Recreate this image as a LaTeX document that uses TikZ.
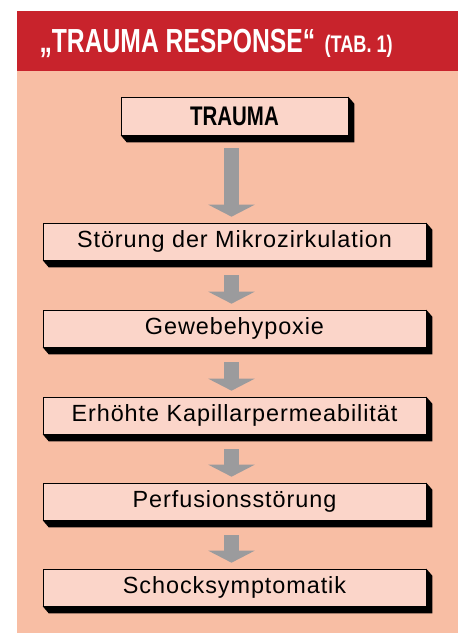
\documentclass[tikz,border=0pt]{standalone}
\usepackage{fontspec}
\setmainfont{Liberation Sans}[LetterSpace=4]
\newfontfamily\condfont[FakeStretch=0.76]{Liberation Sans}
\newfontfamily\titlefont[FakeStretch=0.74]{Liberation Sans}
\usetikzlibrary{arrows.meta}

\definecolor{headred}{HTML}{C8232C}
\definecolor{panelpeach}{HTML}{F8BEA4}
\definecolor{boxpink}{HTML}{FBD5C9}
\definecolor{arrowgray}{HTML}{9B9B9D}

\tikzset{
  flowbox/.style={draw=black,line width=0.6bp,fill=boxpink,inner sep=0pt,
    minimum width=383bp,minimum height=37bp,font=\fontsize{23.5}{26}\selectfont},
  flowarrow/.style={draw=arrowgray,line width=15bp,
    -{Triangle[width=46bp,length=12bp]},shorten >=6bp},
}
% black extruded edge at bottom right of a box
\newcommand{\flowshadow}[1]{%
  \fill (#1.north east) -- ++(6bp,-7bp) -- ([shift={(6bp,-7bp)}]#1.south east)
    -- ([shift={(6bp,-7bp)}]#1.south west) -- (#1.south west) -- (#1.south east) -- cycle;}

\begin{document}
\begin{tikzpicture}[>=latex,line join=miter]
  \pgfsetlinewidth{1bp}
  \useasboundingbox (0bp,0bp) rectangle (464bp,635bp);
%%
  % Panel
  \fill[panelpeach] (17bp,2bp) rectangle (458bp,564bp);
  \fill[headred] (17bp,564bp) rectangle (458bp,624bp);
  \node[anchor=base west,inner sep=0pt,text=white,font=\titlefont\bfseries\fontsize{33.5}{36}\selectfont]
    (title) at (39bp,582bp) {„TRAUMA RESPONSE“};
  \node[anchor=base west,inner sep=0pt,text=white,font=\condfont\bfseries\fontsize{24}{26}\selectfont]
    (tab) at (324bp,582bp) {(TAB. 1)};
  % Node: trauma
  \node[flowbox,minimum width=227bp,minimum height=38bp,font=\condfont\bfseries\fontsize{27}{30}\selectfont]
    (trauma) at (234.5bp,519bp) {TRAUMA};
  \flowshadow{trauma}
  % Node: mikro
  \node[flowbox] (mikro) at (234.5bp,393.5bp) {Störung der Mikrozirkulation};
  \flowshadow{mikro}
  % Node: hypoxie
  \node[flowbox] (hypoxie) at (234.5bp,306.5bp) {Gewebehypoxie};
  \flowshadow{hypoxie}
  % Node: kapillar
  \node[flowbox] (kapillar) at (234.5bp,219.5bp) {Erhöhte Kapillarpermeabilität};
  \flowshadow{kapillar}
  % Node: perfusion
  \node[flowbox] (perfusion) at (234.5bp,133.5bp) {Perfusionsstörung};
  \flowshadow{perfusion}
  % Node: schock
  \node[flowbox] (schock) at (234.5bp,47.5bp) {Schocksymptomatik};
  \flowshadow{schock}
  % Edge: trauma -- mikro
  \draw[flowarrow,shorten <=13bp] ([xshift=-3bp]trauma.south) -- ([xshift=-3bp]mikro.north);
  % Edge: mikro -- hypoxie
  \draw[flowarrow,shorten <=15bp] ([xshift=-3bp]mikro.south) -- ([xshift=-3bp]hypoxie.north);
  % Edge: hypoxie -- kapillar
  \draw[flowarrow,shorten <=15bp] ([xshift=-3bp]hypoxie.south) -- ([xshift=-3bp]kapillar.north);
  % Edge: kapillar -- perfusion
  \draw[flowarrow,shorten <=15bp] ([xshift=-3bp]kapillar.south) -- ([xshift=-3bp]perfusion.north);
  % Edge: perfusion -- schock
  \draw[flowarrow,shorten <=15bp] ([xshift=-3bp]perfusion.south) -- ([xshift=-3bp]schock.north);
%
\end{tikzpicture}
\end{document}
